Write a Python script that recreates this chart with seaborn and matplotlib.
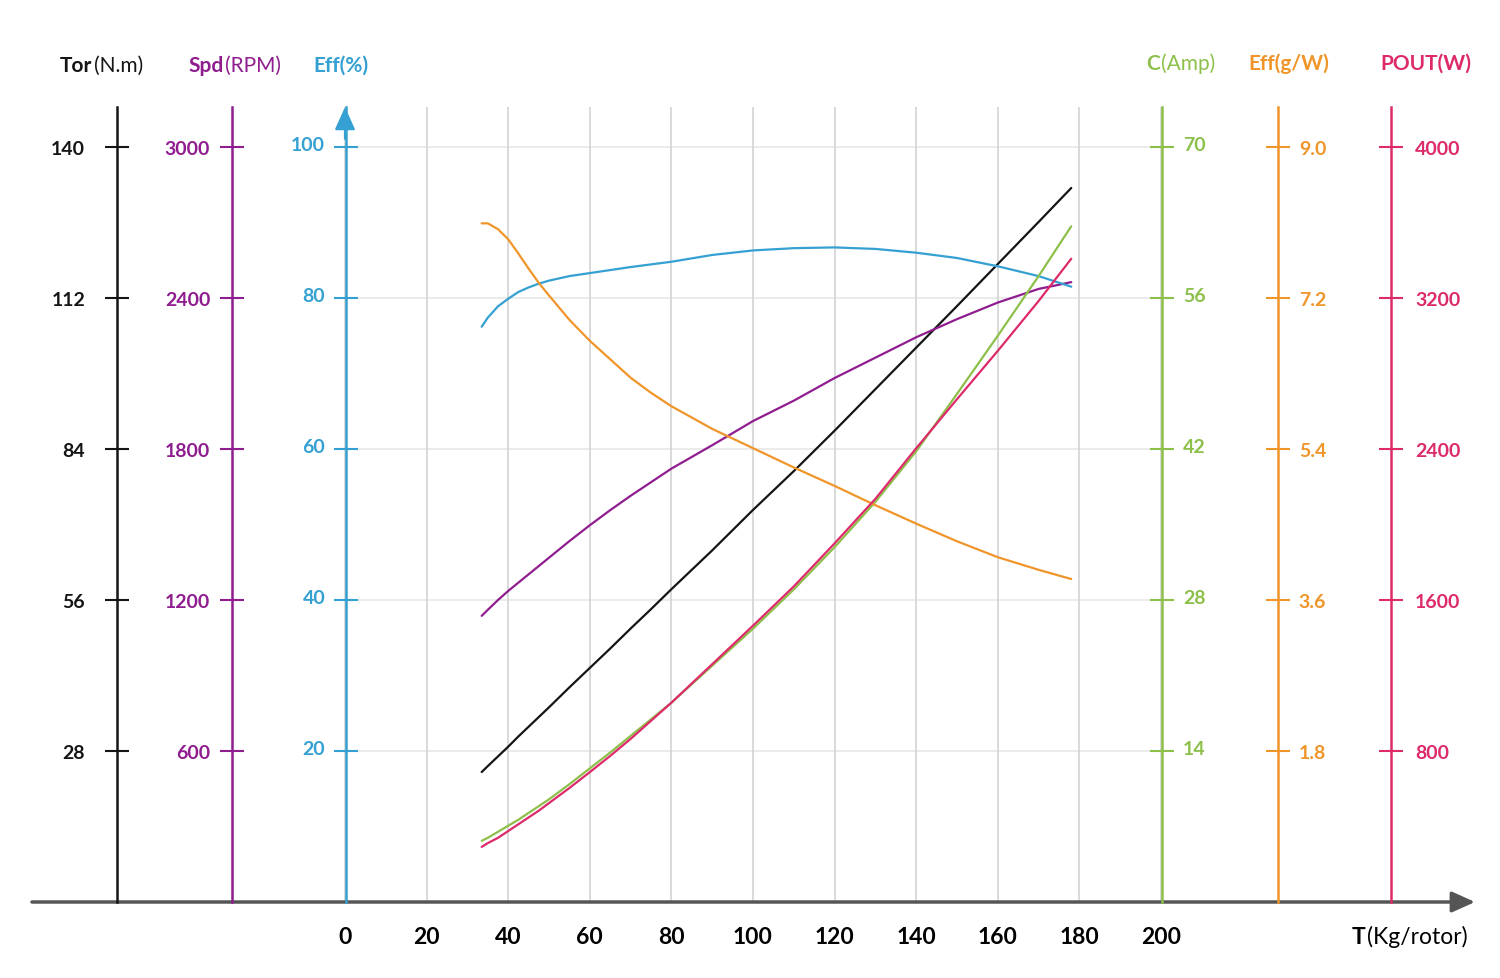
import matplotlib
matplotlib.use("Agg")
import matplotlib.pyplot as plt
from matplotlib.transforms import ScaledTranslation
import seaborn as sns

thrust = [33.5, 35, 37.5, 40, 42.5, 45, 47.5, 50, 55, 60, 65, 70, 75, 80, 90, 100, 110,
          120, 130, 140, 150, 160, 170, 178]
torque = [24.1, 25.2, 27.0, 28.8, 30.7, 32.5, 34.3, 36.1, 39.8, 43.4, 47.0, 50.7, 54.3,
          58.0, 65.2, 72.7, 79.9, 87.4, 95.1, 102.8, 110.5, 118.3, 126.1, 132.4]
speed = [1137, 1161, 1200, 1236, 1269, 1302, 1335, 1368, 1434, 1497, 1557, 1614, 1668,
         1722, 1815, 1911, 1992, 2082, 2163, 2244, 2316, 2382, 2436, 2463]
eff_pct = [76.2, 77.4, 78.9, 79.9, 80.8, 81.4, 81.9, 82.3, 82.9, 83.3, 83.7, 84.1, 84.45,
           84.8, 85.7, 86.3, 86.6, 86.7, 86.5, 86.0, 85.3, 84.2, 82.9, 81.5]
current = [5.67, 5.95, 6.51, 7.07, 7.63, 8.26, 8.89, 9.52, 10.92, 12.39, 13.86, 15.4,
           16.94, 18.48, 21.91, 25.34, 28.98, 32.9, 37.1, 41.79, 47.11, 52.5, 58.03, 62.65]
eff_gw = [8.09, 8.09, 8.02, 7.90, 7.73, 7.55, 7.38, 7.23, 6.94, 6.69, 6.47, 6.25, 6.07,
          5.91, 5.64, 5.41, 5.18, 4.96, 4.73, 4.51, 4.30, 4.11, 3.96, 3.85]
power = [292, 312, 340, 376, 412, 448, 484, 524, 604, 688, 774, 864, 960, 1056, 1260,
         1464, 1672, 1900, 2136, 2404, 2664, 2920, 3184, 3408]

x_ticks = [0, 20, 40, 60, 80, 100, 120, 140, 160, 180, 200]
tor_ticks = [28, 56, 84, 112, 140]
spd_ticks = [600, 1200, 1800, 2400, 3000]
eff_ticks = [20, 40, 60, 80, 100]
amp_ticks = [14, 28, 42, 56, 70]
gw_ticks = [1.8, 3.6, 5.4, 7.2, 9.0]
pout_ticks = [800, 1600, 2400, 3200, 4000]

BLACK = "#151515"
PURPLE = "#8f1d8f"
BLUE = "#35a0d2"
GREEN = "#8dc04a"
ORANGE = "#f0952a"
PINK = "#dd2a6b"
GREY = "#555555"

sns.set_theme(style="white")
plt.rcParams['font.family'] = ['Lato', 'DejaVu Sans']

W, H = 1500, 979
PX_LEFT, PX_RIGHT, PX_TOP, PX_BOTTOM = 32, 1475, 108, 903
X0_PX, X200_PX = 345, 1161
EFF0_PX, EFF100_PX = 903, 148

x_scale = 200 / (X200_PX - X0_PX)
xlim = (-(X0_PX - PX_LEFT) * x_scale, 200 + (PX_RIGHT - X200_PX) * x_scale)
eff_top = (PX_BOTTOM - PX_TOP) / (EFF0_PX - EFF100_PX) * 100

fig = plt.figure(figsize=(W / 100, H / 100), dpi=100)
fig.patch.set_facecolor("white")
ax = fig.add_axes([PX_LEFT / W, 1 - PX_BOTTOM / H, (PX_RIGHT - PX_LEFT) / W,
                   (PX_BOTTOM - PX_TOP) / H])
ax.set_xlim(xlim)
ax.set_ylim(0, eff_top)
for s in ax.spines.values():
    s.set_visible(False)
ax.set_xticks(x_ticks)
ax.tick_params(axis="x", length=0, pad=17, labelsize=16.5, labelcolor="black")
for lab in ax.get_xticklabels():
    lab.set_fontweight("bold")
ax.grid(True, axis="x", color="#d3d3d3", lw=1.2)
ax.grid(False, axis="y")
ax.hlines(eff_ticks, 0, 200, color="#e8e8e8", lw=1.2, zorder=0.5)

# horizontal axis with arrow head
ax.annotate("", xy=(1, 0), xytext=(0, 0), xycoords="axes fraction",
            arrowprops=dict(arrowstyle="-|>,head_length=1.0,head_width=0.45", color=GREY,
                            lw=2.5, shrinkA=0, shrinkB=0, mutation_scale=14),
            annotation_clip=False)

# ticks, series, colour, side, spine px, label pad, label lift (px), format
axes_spec = [
    (tor_ticks, torque, BLACK, "left", 117, 14.4, 0, "{:g}"),
    (spd_ticks, speed, PURPLE, "left", 232, 7.2, 0, "{:g}"),
    (eff_ticks, eff_pct, BLUE, "left", 346, 6.5, 4, "{:g}"),
    (amp_ticks, current, GREEN, "right", 1162, 6.5, 4, "{:g}"),
    (gw_ticks, eff_gw, ORANGE, "right", 1278, 6.5, 0, "{:.1f}"),
    (pout_ticks, power, PINK, "right", 1391, 8.7, 0, "{:g}"),
]

for ticks, values, color, side, spine_px, pad, lift, fmt in axes_spec:
    tw = ax.twinx()
    sns.lineplot(x=thrust, y=values, ax=tw, color=color, linewidth=1.6)
    factor = ticks[-1] / 100
    tw.set_ylim(0, eff_top * factor)
    for s in tw.spines.values():
        s.set_visible(False)
    sp = tw.spines[side]
    sp.set_visible(True)
    sp.set_position(("axes", (spine_px - PX_LEFT) / (PX_RIGHT - PX_LEFT)))
    sp.set_color(color)
    sp.set_linewidth(1.8)
    tw.yaxis.set_ticks_position(side)
    tw.yaxis.set_label_position(side)
    tw.set_yticks(ticks)
    tw.set_yticklabels([fmt.format(t) for t in ticks])
    tw.set_ylabel("")
    tw.tick_params(axis="y", direction="inout", length=17, width=1.5, color=color,
                   labelcolor=color, labelsize=14, pad=pad)
    shift = ScaledTranslation(0, lift / 100, fig.dpi_scale_trans)
    for lab in tw.get_yticklabels():
        lab.set_fontweight("bold")
        if lift:
            lab.set_transform(lab.get_transform() + shift)

# twinx turns the host's left ticks back on
ax.tick_params(axis="y", left=False, right=False, labelleft=False, labelright=False)

# arrow on top of the Eff(%) axis
ax.annotate("", xy=(0, 1), xytext=(0, 0.96), xycoords=("data", "axes fraction"),
            arrowprops=dict(arrowstyle="-|>,head_length=1.0,head_width=0.45", color=BLUE,
                            lw=1.6, shrinkA=0, shrinkB=0, mutation_scale=14),
            annotation_clip=False)

renderer = fig.canvas.get_renderer()


def two_part(x_px, y_px, bold, rest, color, size=15):
    # bold name followed by a regular unit, sharing one baseline
    y = 1 - y_px / H
    t = fig.text(x_px / W, y, bold, color=color, fontsize=size, fontweight="bold",
                 ha="left", va="baseline")
    if rest:
        bb = t.get_window_extent(renderer)
        fig.text(bb.x1 / W + 0.001, y, rest, color=color, fontsize=size, ha="left",
                 va="baseline")


two_part(60, 72, "Tor", "(N.m)", BLACK)
two_part(188, 72, "Spd", "(RPM)", PURPLE)
two_part(313, 72, "Eff(%)", "", BLUE)
two_part(1146, 70, "C", "(Amp)", GREEN)
two_part(1248, 70, "Eff(g/W)", "", ORANGE)
two_part(1380, 70, "POUT(W)", "", PINK)
two_part(1352, 944, "T", "(Kg/rotor)", "black", size=16.5)

fig.savefig("out.png", dpi=100)
